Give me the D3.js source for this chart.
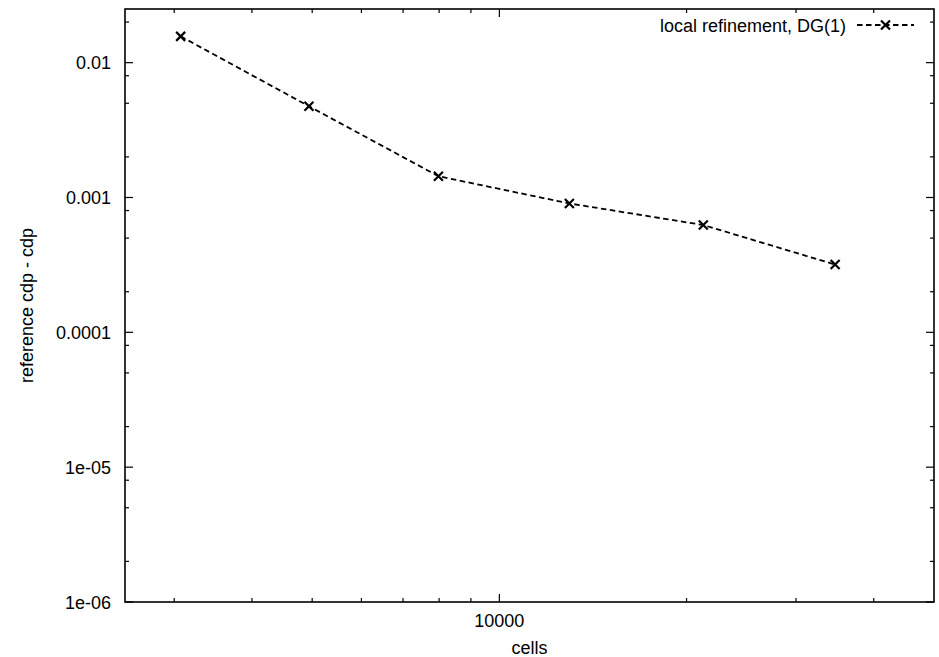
<!DOCTYPE html>
<html>
<head>
<meta charset="utf-8">
<script src="https://cdn.jsdelivr.net/npm/d3@7"></script>
<style>
  html, body { margin: 0; padding: 0; background: #fff; }
  svg { display: block; }
  text { font-family: "Liberation Sans", Arial, Helvetica, sans-serif; fill: #000; }
</style>
</head>
<body>
<svg id="chart" width="939" height="657"></svg>
<script>
// Convergence of the cdp error under local refinement, DG(1)
const cells = [3072, 4940, 7980, 12960, 21280, 34670];
const errors = [0.01567, 0.00475, 0.001438, 0.000903, 0.000625, 0.000318];
const seriesLabel = "local refinement, DG(1)";

const xDomain = [2500, 50000];
const yDomain = [1e-6, 0.025];
const xMajorTicks = [10000];
const xMajorLabels = ["10000"];
const xMinorTicks = [3000, 4000, 5000, 6000, 7000, 8000, 9000, 20000, 30000, 40000];
const yMajorTicks = [1e-6, 1e-5, 1e-4, 1e-3, 1e-2];
const yMajorLabels = ["1e-06", "1e-05", "0.0001", "0.001", "0.01"];
const yMinorTicks = [2e-6, 5e-6, 8e-6, 2e-5, 5e-5, 8e-5, 2e-4, 5e-4, 8e-4, 2e-3, 5e-3, 8e-3, 2e-2];

const plot = { left: 125, right: 934, top: 9, bottom: 602 };
const fontSize = 18;

const svg = d3.select("#chart");

const x = d3.scaleLog().domain(xDomain).range([plot.left, plot.right]);
const y = d3.scaleLog().domain(yDomain).range([plot.bottom, plot.top]);

const ink = "#000";
const majorLen = 8, minorLen = 4;

// Tick marks pointing inward, mirrored on the opposite side
const ticks = svg.append("g").attr("stroke", ink).attr("stroke-width", 1.2);

function xTicks(vals, len) {
  vals.forEach(v => {
    const px = x(v);
    ticks.append("line").attr("x1", px).attr("x2", px)
      .attr("y1", plot.bottom).attr("y2", plot.bottom - len);
    ticks.append("line").attr("x1", px).attr("x2", px)
      .attr("y1", plot.top).attr("y2", plot.top + len);
  });
}
function yTicks(vals, len) {
  vals.forEach(v => {
    const py = y(v);
    ticks.append("line").attr("y1", py).attr("y2", py)
      .attr("x1", plot.left).attr("x2", plot.left + len);
    ticks.append("line").attr("y1", py).attr("y2", py)
      .attr("x1", plot.right).attr("x2", plot.right - len);
  });
}
xTicks(xMajorTicks, majorLen);
xTicks(xMinorTicks, minorLen);
yTicks(yMajorTicks, majorLen);
yTicks(yMinorTicks, minorLen);

// Frame
svg.append("rect")
  .attr("x", plot.left).attr("y", plot.top)
  .attr("width", plot.right - plot.left).attr("height", plot.bottom - plot.top)
  .attr("fill", "none").attr("stroke", ink).attr("stroke-width", 1.6);

// Tick labels
svg.append("g").selectAll("text").data(yMajorTicks).join("text")
  .attr("x", plot.left - 14)
  .attr("y", d => y(d) + 6.5)
  .attr("text-anchor", "end")
  .attr("font-size", fontSize)
  .text((d, i) => yMajorLabels[i]);

svg.append("g").selectAll("text").data(xMajorTicks).join("text")
  .attr("x", d => x(d))
  .attr("y", plot.bottom + 25)
  .attr("text-anchor", "middle")
  .attr("font-size", fontSize)
  .text((d, i) => xMajorLabels[i]);

// Axis titles
svg.append("text")
  .attr("x", (plot.left + plot.right) / 2)
  .attr("y", 654)
  .attr("text-anchor", "middle")
  .attr("font-size", fontSize)
  .text("cells");

svg.append("text")
  .attr("transform", `translate(33,${(plot.top + plot.bottom) / 2}) rotate(-90)`)
  .attr("text-anchor", "middle")
  .attr("font-size", fontSize)
  .text("reference cdp - cdp");

// Series line and cross markers
const pts = cells.map((c, i) => [c, errors[i]]);
const line = d3.line().x(d => x(d[0])).y(d => y(d[1]));

svg.append("path")
  .attr("d", line(pts))
  .attr("fill", "none")
  .attr("stroke", ink)
  .attr("stroke-width", 1.8)
  .attr("stroke-dasharray", "5.5,3.5");

const m = 4.5;
function cross(g, cx, cy) {
  g.append("path")
    .attr("d", `M${cx - m},${cy - m}L${cx + m},${cy + m}M${cx - m},${cy + m}L${cx + m},${cy - m}`)
    .attr("stroke", ink).attr("stroke-width", 2.2).attr("fill", "none");
}
const marks = svg.append("g");
pts.forEach(d => cross(marks, x(d[0]), y(d[1])));

// Legend
const legY = 25;
svg.append("text")
  .attr("x", 846).attr("y", legY + 6.5)
  .attr("text-anchor", "end")
  .attr("font-size", fontSize)
  .text(seriesLabel);
svg.append("line")
  .attr("x1", 857).attr("x2", 914)
  .attr("y1", legY).attr("y2", legY)
  .attr("stroke", ink).attr("stroke-width", 1.8)
  .attr("stroke-dasharray", "5.5,3.5");
cross(svg, 885.5, legY);
</script>
</body>
</html>
